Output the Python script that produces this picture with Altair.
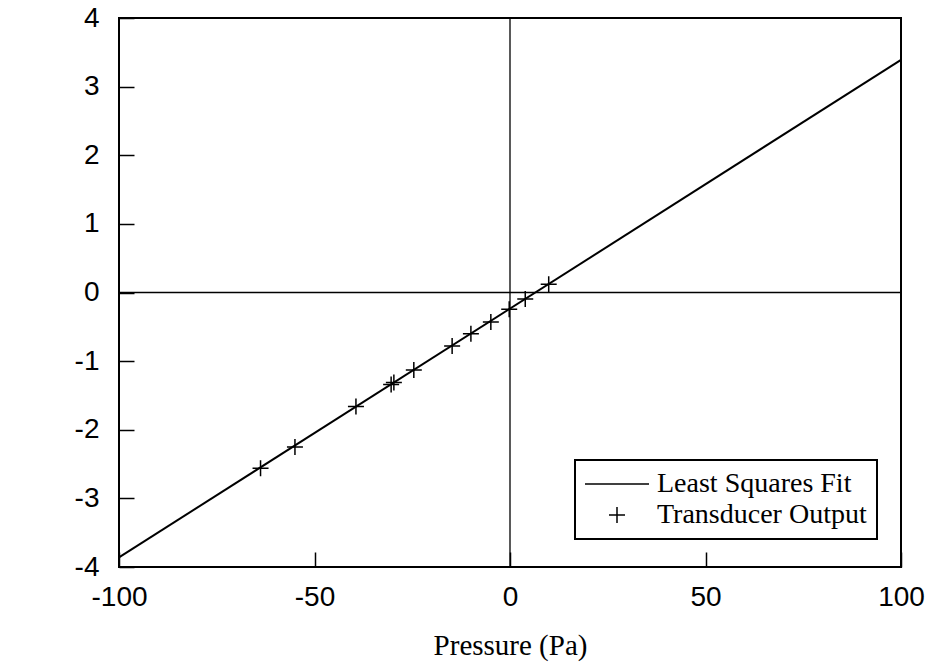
import altair as alt
import pandas as pd

# Measured transducer output points (pressure in Pa, output)
pressure = [-63.8, -55.0, -39.4, -30.4, -29.7, -24.6, -14.8, -10.0, -4.9, -0.2, 3.9, 9.9]
output = [-2.56, -2.25, -1.66, -1.34, -1.31, -1.13, -0.78, -0.60, -0.43, -0.245, -0.095, 0.12]

# Least squares fit line endpoints
fit_x = [-100, 100]
fit_y = [-3.86, 3.39]

series_names = ["Least Squares Fit", "Transducer Output"]
x_ticks = [-100, -50, 0, 50, 100]
y_ticks = [-4, -3, -2, -1, 0, 1, 2, 3, 4]

pts = pd.DataFrame({"x": pressure, "y": output, "series": "Transducer Output"})
fit = pd.DataFrame({"x": fit_x, "y": fit_y})
zero = pd.DataFrame({"v": [0]})

xscale = alt.Scale(domain=[-100, 100], nice=False, zero=False)
yscale = alt.Scale(domain=[-4, 4], nice=False, zero=False)

x_axis = alt.Axis(
    values=x_ticks, title="Pressure (Pa)", grid=False, domain=False,
    offset=-15, tickSize=15, tickColor="black", tickWidth=1.5,
    labelExpr="toString(datum.value)",
    labelFont="Liberation Sans", labelFontSize=28, labelColor="black",
    labelPadding=16, labelFlush=False, labelOverlap=False,
    titleFont="Liberation Serif", titleFontSize=29, titleFontWeight="normal",
    titleColor="black", titlePadding=20,
)
y_axis = alt.Axis(
    values=y_ticks, title=None, grid=False, domain=False,
    offset=-15, tickSize=15, tickColor="black", tickWidth=1.5,
    labelExpr="toString(datum.value)",
    labelFont="Liberation Sans", labelFontSize=28, labelColor="black",
    labelPadding=20, labelFlush=False, labelOverlap=False,
)

vline = alt.Chart(zero).mark_rule(color="black", strokeWidth=1.3).encode(
    x=alt.X("v:Q", scale=xscale, axis=x_axis)
)
hline = alt.Chart(zero).mark_rule(color="black", strokeWidth=1.3).encode(
    y=alt.Y("v:Q", scale=yscale, axis=y_axis)
)

fit_line = alt.Chart(fit).mark_line(color="black", strokeWidth=2).encode(
    x=alt.X("x:Q", scale=xscale, axis=x_axis),
    y=alt.Y("y:Q", scale=yscale, axis=y_axis),
)

points = alt.Chart(pts).mark_point(
    filled=False, color="black", strokeWidth=1.5, size=256, opacity=1
).encode(
    x=alt.X("x:Q", scale=xscale, axis=x_axis),
    y=alt.Y("y:Q", scale=yscale, axis=y_axis),
    shape=alt.Shape(
        "series:N",
        scale=alt.Scale(domain=series_names,
                        range=["M-4,0L4,0", "M-1,0L1,0M0,-1L0,1"]),
        legend=alt.Legend(
            title=None, orient="none", legendX=456, legendY=442,
            strokeColor="black", padding=10,
            labelFont="Liberation Serif", labelFontSize=28, labelColor="black",
            symbolStrokeColor="black", symbolStrokeWidth=1.5,
            symbolFillColor="transparent", symbolSize=256,
            symbolOffset=18, labelOffset=26,
            labelLimit=400,
        ),
    ),
)

chart = alt.layer(vline, hline, fit_line, points).properties(
    width=782, height=549,
    autosize=alt.AutoSizeParams(type="none"),
    padding={"left": 119, "top": 18, "right": 27, "bottom": 97},
    background="white",
).configure_view(stroke="black", strokeWidth=2).configure_legend(
    strokeWidth=2, rowPadding=3
)

chart.save("out.html", embed_options={"renderer": "svg", "actions": False})
